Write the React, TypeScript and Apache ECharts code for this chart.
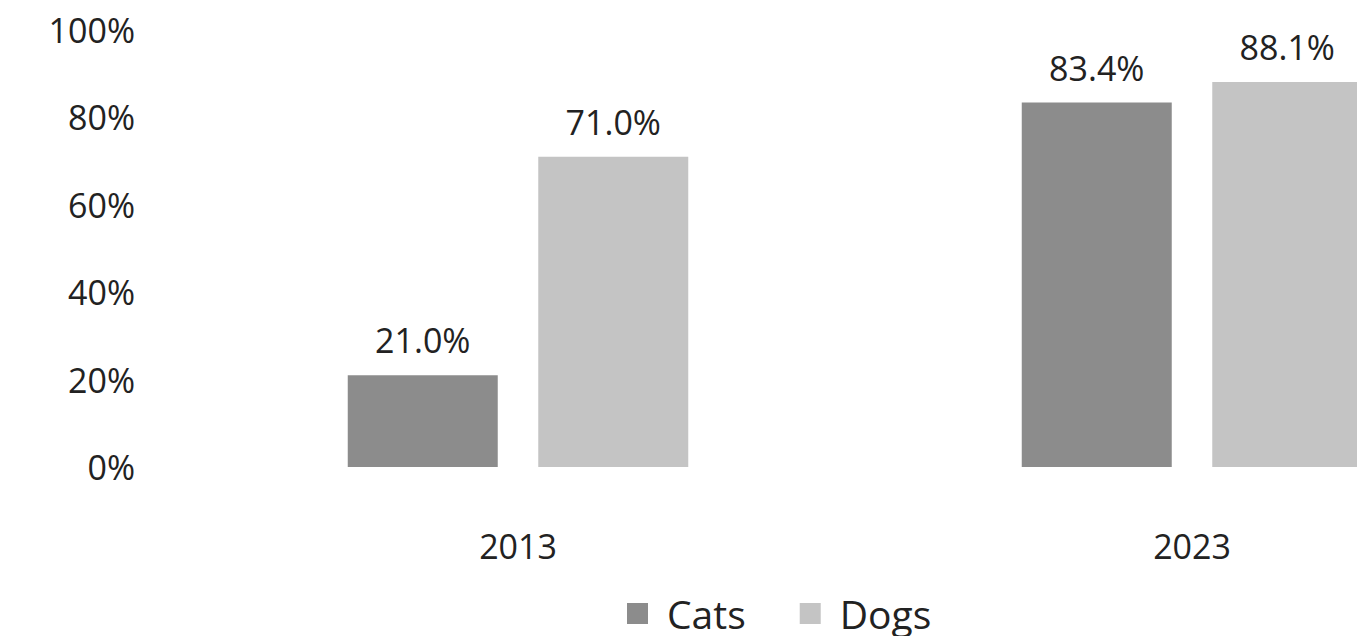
import React, { useEffect, useRef } from "react";
import * as echarts from "echarts";

const categories = ["2013", "2023"];
const catsValues = [21.0, 83.4];
const dogsValues = [71.0, 88.1];
const seriesNames = ["Cats", "Dogs"];

const FONT = "'Open Sans', 'DejaVu Sans', sans-serif";

export default function App() {
  const ref = useRef<HTMLDivElement>(null);
  useEffect(() => {
    if (!ref.current) return;
    const chart = echarts.init(ref.current, undefined, { renderer: "svg" });
    const label = {
      show: true,
      position: "top" as const,
      distance: 18,
      fontFamily: FONT,
      fontSize: 34,
      color: "#222",
      formatter: (p: any) => `${Number(p.value).toFixed(1)}%`,
    };
    chart.setOption({
      animation: false,
      backgroundColor: "#ffffff",
      grid: { left: 181, top: 30, width: 1348, height: 437 },
      legend: {
        data: seriesNames,
        top: 594,
        left: 627,
        padding: 0,
        itemWidth: 21,
        itemHeight: 21,
        itemGap: 54,
        icon: "rect",
        textStyle: { fontFamily: FONT, fontSize: 39, color: "#222", padding: [0, 0, 0, 14] },
      },
      xAxis: {
        type: "category",
        data: categories,
        axisLine: { show: false },
        axisTick: { show: false },
        axisLabel: { fontFamily: FONT, fontSize: 34, color: "#222", margin: 62 },
      },
      yAxis: {
        type: "value",
        min: 0,
        max: 100,
        interval: 20,
        splitLine: { show: false },
        axisLine: { show: false },
        axisTick: { show: false },
        axisLabel: {
          fontFamily: FONT,
          fontSize: 34,
          color: "#222",
          margin: 46,
          formatter: (v: number) => `${v}%`,
        },
      },
      series: [
        {
          name: seriesNames[0],
          type: "bar",
          data: catsValues,
          barWidth: 150,
          barGap: "27%",
          itemStyle: { color: "#8c8c8c" },
          label,
        },
        {
          name: seriesNames[1],
          type: "bar",
          data: dogsValues,
          barWidth: 150,
          itemStyle: { color: "#c4c4c4" },
          label,
        },
      ],
    });
    return () => chart.dispose();
  }, []);
  return (
    <div style={{ width: 1365, height: 644, margin: -8, overflow: "hidden", position: "relative" }}>
      <div ref={ref} style={{ width: 1529, height: 644 }} />
    </div>
  );
}
